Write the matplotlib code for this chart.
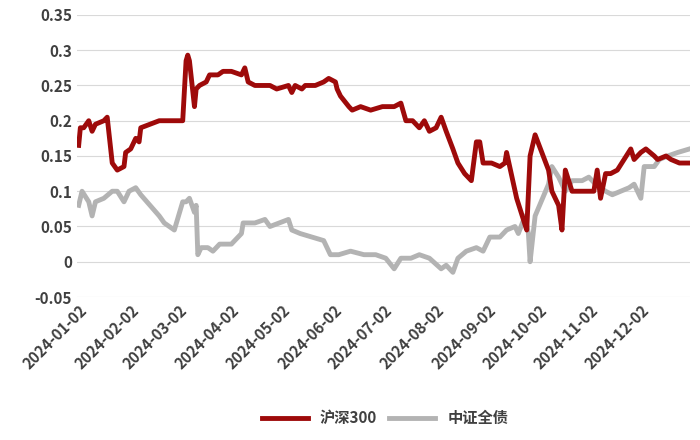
import matplotlib
matplotlib.use("Agg")
import matplotlib.pyplot as plt
import matplotlib.dates as mdates
import pandas as pd

plt.rcParams['font.family'] = ['Noto Sans CJK SC', 'DejaVu Sans']

hs300_dates = ["01-02","01-03","01-05","01-08","01-10","01-12","01-17","01-19","01-22","01-25","01-29","01-30",
    "02-02","02-05","02-07","02-08","02-19","02-22","03-01","03-04","03-06","03-07","03-08","03-11","03-12","03-14",
    "03-18","03-20","03-25","03-28","04-02","04-08","04-10","04-12","04-16","04-22","04-25","04-29","05-06","05-08",
    "05-10","05-14","05-16","05-22","05-27","05-30","06-03","06-04","06-06","06-11","06-13","06-18","06-24","07-01",
    "07-08","07-12","07-15","07-19","07-23","07-26","07-29","08-02","08-05","08-08","08-12","08-15","08-19","08-21",
    "08-23","08-26","08-28","08-30","09-04","09-09","09-12","09-13","09-19","09-23","09-25","09-27","09-30","10-08",
    "10-10","10-14","10-16","10-18","10-22","10-25","10-31","11-04","11-06","11-08","11-11","11-14","11-18","11-22",
    "11-26","11-28","12-02","12-05","12-10","12-12","12-17","12-20","12-25","12-31"]
hs300 = [0.165,0.19,0.19,0.2,0.185,0.195,0.2,0.205,0.14,0.13,0.135,0.155,
    0.16,0.175,0.17,0.19,0.2,0.2,0.2,0.2,0.285,0.293,0.285,0.22,0.245,0.25,
    0.255,0.265,0.265,0.27,0.27,0.265,0.275,0.255,0.25,0.25,0.25,0.245,0.25,0.24,
    0.25,0.245,0.25,0.25,0.255,0.26,0.255,0.245,0.235,0.22,0.215,0.22,0.215,0.22,
    0.22,0.225,0.2,0.2,0.19,0.2,0.185,0.19,0.205,0.185,0.16,0.14,0.125,0.12,
    0.115,0.17,0.17,0.14,0.14,0.135,0.14,0.155,0.09,0.06,0.045,0.15,0.18,0.13,
    0.1,0.08,0.045,0.13,0.1,0.1,0.1,0.1,0.13,0.09,0.125,0.125,0.13,0.145,
    0.16,0.145,0.155,0.16,0.15,0.145,0.15,0.145,0.14,0.14]

bond_dates = ["01-02","01-04","01-08","01-10","01-12","01-17","01-22","01-25","01-29","02-01","02-05","02-08",
    "02-19","02-22","02-28","03-04","03-06","03-08","03-11","03-12","03-13","03-15","03-19","03-22","03-26","04-02",
    "04-08","04-09","04-16","04-22","04-25","05-06","05-08","05-13","05-20","05-27","05-31","06-05","06-12","06-20",
    "06-27","07-03","07-08","07-12","07-18","07-23","07-29","08-05","08-08","08-12","08-15","08-20","08-26","08-30",
    "09-03","09-09","09-13","09-18","09-20","09-24","09-26","09-27","09-30","10-08","10-10","10-14","10-18","10-22",
    "10-28","11-01","11-05","11-11","11-15","11-20","11-25","11-28","12-02","12-04","12-10","12-13","12-18","12-24","12-31"]
bond = [0.08,0.1,0.085,0.065,0.085,0.09,0.1,0.1,0.085,0.1,0.105,0.095,
    0.065,0.055,0.045,0.085,0.085,0.09,0.07,0.08,0.01,0.02,0.02,0.015,0.025,0.025,
    0.04,0.055,0.055,0.06,0.05,0.06,0.045,0.04,0.035,0.03,0.01,0.01,0.015,0.01,
    0.01,0.005,-0.01,0.005,0.005,0.01,0.005,-0.01,-0.005,-0.015,0.005,0.015,0.02,0.015,
    0.035,0.035,0.045,0.05,0.04,0.065,0.04,0.0,0.065,0.11,0.135,0.12,0.1,0.115,
    0.115,0.12,0.11,0.1,0.095,0.1,0.105,0.11,0.09,0.135,0.135,0.145,0.15,0.155,0.16]

hs_x = pd.to_datetime(["2024-" + d for d in hs300_dates])
bd_x = pd.to_datetime(["2024-" + d for d in bond_dates])
tick_x = pd.to_datetime([f"2024-{m:02d}-02" for m in range(1, 13)])

fig, ax = plt.subplots(figsize=(7, 4.4), dpi=100)
fig.subplots_adjust(left=0.11, right=0.985, top=0.966, bottom=0.325)
ax.plot(bd_x, bond, color="#b3b3b3", lw=3.5, label="中证全债")
ax.plot(hs_x, hs300, color="#9e0a0a", lw=3.5, label="沪深300")

ax.set_ylim(-0.05, 0.35)
ax.set_yticks([-0.05, 0, 0.05, 0.1, 0.15, 0.2, 0.25, 0.3, 0.35])
ax.set_yticklabels(["-0.05", "0", "0.05", "0.1", "0.15", "0.2", "0.25", "0.3", "0.35"])
ax.set_xlim(pd.Timestamp("2024-01-01"), pd.Timestamp("2024-12-31"))
ax.set_xticks(tick_x)
ax.xaxis.set_major_formatter(mdates.DateFormatter("%Y-%m-%d"))
plt.setp(ax.get_xticklabels(), rotation=45, ha="right", rotation_mode="anchor")
ax.tick_params(length=0, labelsize=11, colors="#404040")
for t in ax.get_xticklabels() + ax.get_yticklabels():
    t.set_fontweight("bold")
ax.grid(axis="y", color="#d9d9d9", lw=0.8)
for s in ax.spines.values():
    s.set_visible(False)

h, l = ax.get_legend_handles_labels()
leg = fig.legend(h[::-1], l[::-1], loc="lower center", ncol=2, frameon=False,
                 fontsize=11, bbox_to_anchor=(0.55, 0.0), handlelength=3, columnspacing=0.8,
                 prop={"weight": "bold", "size": 11})
for t in leg.get_texts():
    t.set_color("#404040")
fig.savefig("out.png")
